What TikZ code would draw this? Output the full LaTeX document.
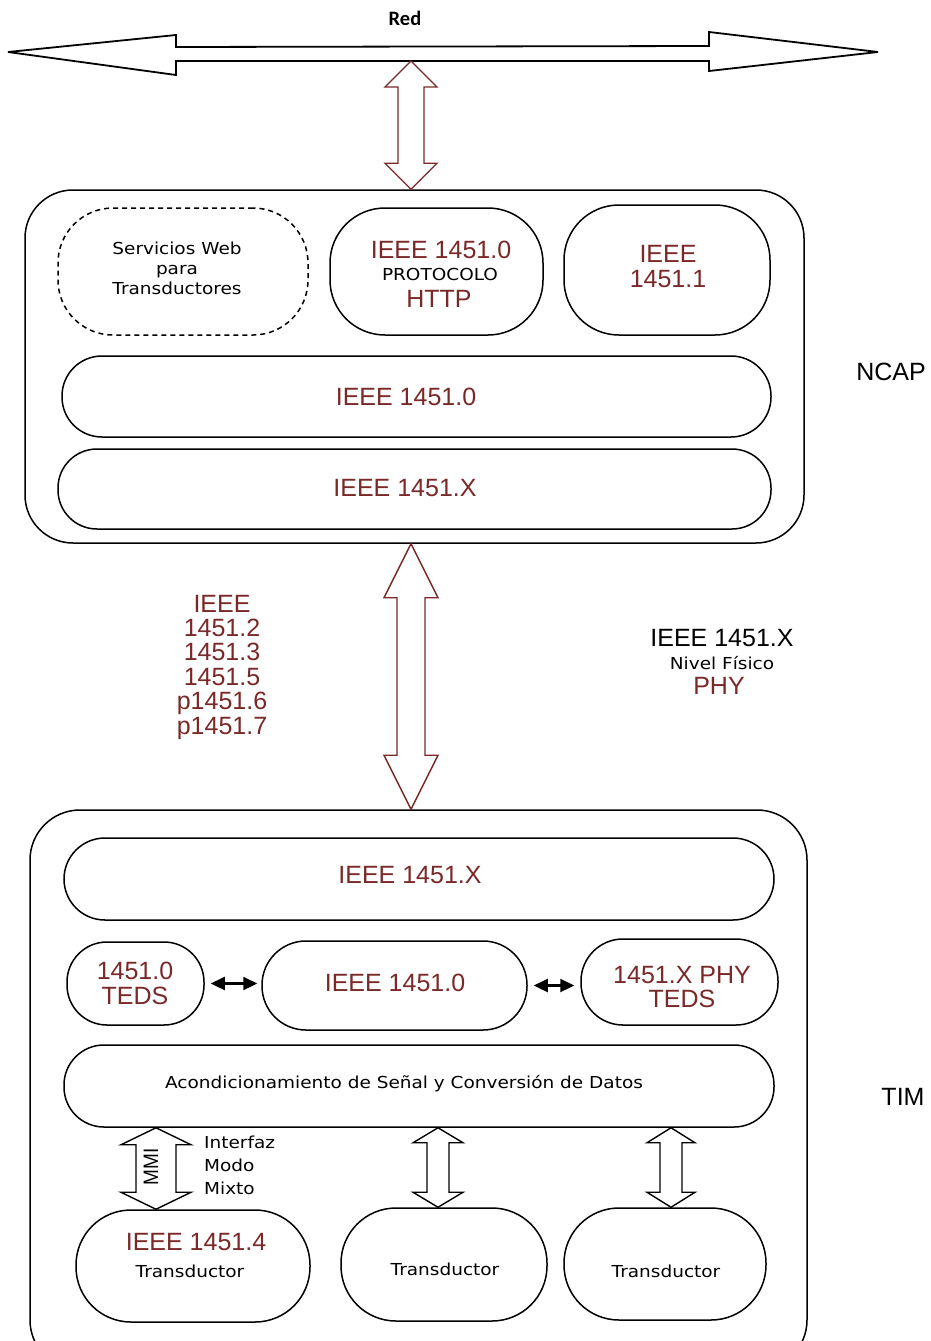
\documentclass[tikz,border=0pt]{standalone}
\usepackage{fontspec}
\setmainfont{Liberation Sans}
\newfontfamily\dejavu[FakeStretch=1.12]{DejaVu Sans}
\newfontfamily\carlito{Carlito}
\usetikzlibrary{calc,arrows.meta}
\definecolor{ieeered}{RGB}{122,40,40}

% hollow vertical double arrow: style, top point, bottom point,
% head half-width, shaft half-width, head length
\newcommand\hollowarrow[6]{%
  \draw[#1] let \p1=#2, \p2=#3 in
    (\x1,\y1) -- (\x1+#4pt,\y1-#6pt) -- (\x1+#5pt,\y1-#6pt) -- (\x1+#5pt,\y2+#6pt)
    -- (\x1+#4pt,\y2+#6pt) -- (\x1,\y2) -- (\x1-#4pt,\y2+#6pt) -- (\x1-#5pt,\y2+#6pt)
    -- (\x1-#5pt,\y1-#6pt) -- (\x1-#4pt,\y1-#6pt) -- cycle;}

\tikzset{
  box/.style={draw, line width=1.5pt, rectangle, rounded corners=#1, inner sep=0pt},
  box/.default=40pt,
  rt/.style={text=ieeered, font=\fontsize{25}{24.5}\selectfont, inner sep=0pt, align=center},
  bk/.style={font=\fontsize{25}{24.5}\selectfont, inner sep=0pt, align=center},
  bt/.style={font=\dejavu\fontsize{16.5}{20}\selectfont, inner sep=0pt, align=center},
  redarrow/.style={draw=ieeered, line width=1.4pt, line join=miter},
  blkarrow/.style={draw=black, line width=1.4pt, line join=miter},
  link/.style={<->, >={Triangle[length=14pt,width=13pt]}, line width=2.2pt}
}

\begin{document}
\begin{tikzpicture}[x=1pt,y=-1pt]
\useasboundingbox (0,0) rectangle (930,1341);

% ---------------- network bus ----------------
\draw[line width=1.8pt, line join=miter, miter limit=2.5]
  (8,52) -- (176,35) -- (176,47) -- (709,46) -- (709,32) -- (878,52)
  -- (709,71) -- (709,61) -- (176,61) -- (176,75) -- cycle;
\coordinate (net) at (411,61);
\node[font=\carlito\bfseries\fontsize{20.5}{22}\selectfont, inner sep=0pt] (redl) at (405,18) {Red};

% ---------------- NCAP ----------------
\node[box=48pt, minimum width=779pt, minimum height=353pt] (ncap) at (414.5,366.5) {};
\node[box=55pt, dashed, dash pattern=on 5pt off 4pt, minimum width=250pt, minimum height=127pt] (wsbox) at (183,271.5) {};
\node[box=55pt, minimum width=213pt, minimum height=127pt] (httpbox) at (436.5,271.5) {};
\node[box=55pt, minimum width=206pt, minimum height=130pt] (onebox) at (667,270) {};
\node[box=40pt, minimum width=709pt, minimum height=81pt] (ncapzero) at (416.5,396.5) {};
\node[box=39pt, minimum width=713pt, minimum height=80pt] (ncapx) at (414.5,489) {};

\node[bt] (wstext) at (177,268) {Servicios Web\\para\\Transductores};
\node[rt] (httpa) at (441,250) {IEEE 1451.0};
\node[bt] (httpb) at (440,274) {PROTOCOLO};
\node[rt] (httpc) at (439,299) {HTTP};
\node[rt] (onetext) at (668,266.5) {IEEE\\1451.1};
\node[rt] (zerotext) at (406,397) {IEEE 1451.0};
\node[rt] (xtext) at (405,488) {IEEE 1451.X};
\node[bk] (ncaplabel) at (891,372) {NCAP};

\hollowarrow{redarrow}{(net)}{(net |- ncap.north)}{26}{13}{26}

% ---------------- physical link ----------------
\node[box=50pt, minimum width=777pt, minimum height=560pt] (tim) at (418.5,1090) {};
\hollowarrow{redarrow}{(net |- ncap.south)}{(net |- tim.north)}{27}{14}{54}

\node[rt, font=\fontsize{25}{24.4}\selectfont] (stds) at (222,667)
  {IEEE\\1451.2\\1451.3\\1451.5\\p1451.6\\p1451.7};
\node[bk] (phya) at (722,638) {IEEE 1451.X};
\node[bt] (phyb) at (722,663) {Nivel Físico};
\node[rt] (phyc) at (719,686) {PHY};

% ---------------- TIM ----------------
\node[box=41pt, minimum width=710pt, minimum height=82pt] (timx) at (419,879) {};
\node[box=40pt, minimum width=137pt, minimum height=83pt] (teds) at (135.5,983.5) {};
\node[box=44pt, minimum width=265pt, minimum height=89pt] (core) at (394.5,985.5) {};
\node[box=42pt, minimum width=197pt, minimum height=86pt] (phyteds) at (679.5,982) {};
\node[box=40pt, minimum width=710pt, minimum height=82pt] (acond) at (419,1086) {};
\node[box=55pt, minimum width=234pt, minimum height=112pt] (tfour) at (193,1266) {};
\node[box=55pt, minimum width=206pt, minimum height=113pt] (ttwo) at (444,1264.5) {};
\node[box=55pt, minimum width=202pt, minimum height=112pt] (tthree) at (665,1264) {};

\node[rt] (timxtext) at (410,875) {IEEE 1451.X};
\node[rt] (tedstext) at (135,983.5) {1451.0\\TEDS};
\node[rt] (coretext) at (395,983) {IEEE 1451.0};
\node[rt] (phytedstext) at (682,987) {1451.X PHY\\TEDS};
\node[bt] (acondtext) at (404,1084) {Acondicionamiento de Señal y Conversión de Datos};
\node[rt] (tfoura) at (196,1242) {IEEE 1451.4};
\node[bt] (tfourb) at (190,1271) {Transductor};
\node[bt] (ttwotext) at (445,1269) {Transductor};
\node[bt] (tthreetext) at (666,1271) {Transductor};
\node[bk] (timlabel) at (903,1097) {TIM};

\draw[link, shorten <=6pt, shorten >=4pt] (teds.east) -- (teds.east -| core.west);
\draw[link, shorten <=6pt, shorten >=6pt] (core.east) -- (core.east -| phyteds.west);

\coordinate (mmi) at (156,0);
\coordinate (chtwo) at (438,0);
\coordinate (chthree) at (671,0);
\hollowarrow{blkarrow}{(mmi |- acond.south)}{(mmi |- tfour.north)}{35}{20}{17}
\hollowarrow{blkarrow}{(chtwo |- acond.south)}{(chtwo |- ttwo.north)}{25}{11}{15}
\hollowarrow{blkarrow}{(chthree |- acond.south)}{(chthree |- tthree.north)}{24}{11}{15}

\node[font=\fontsize{19}{20}\selectfont, inner sep=0pt, rotate=90, yscale=1.1] (mmitext) at (151,1167) {MMI};
\node[font=\dejavu\fontsize{16.5}{23}\selectfont, inner sep=0pt, align=left, anchor=west] (mixto) at (204,1165) {Interfaz\\Modo\\Mixto};
\end{tikzpicture}
\end{document}
